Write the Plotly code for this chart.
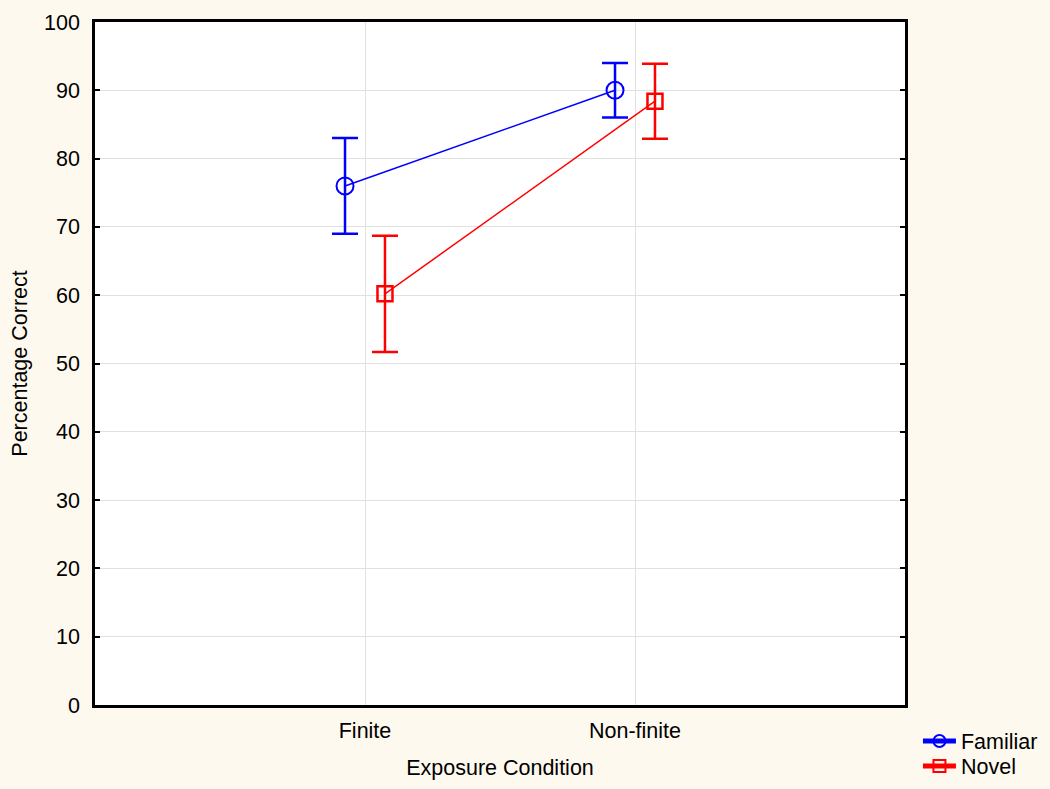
import plotly.graph_objects as go

# --- Data ---
conditions = ["Finite", "Non-finite"]
cond_pos = [0, 1]

familiar_mean = [76.0, 90.0]
familiar_err = [7.0, 4.0]

novel_mean = [60.2, 88.4]
novel_err = [8.5, 5.5]

OFFSET = 0.074  # horizontal dodge between groups

fig = go.Figure()

fig.add_trace(go.Scatter(
    x=[p - OFFSET for p in cond_pos], y=familiar_mean,
    name="Familiar", mode="lines+markers", legend="legend",
    line=dict(color="#0000FF", width=1.5),
    marker=dict(symbol="circle-open", size=17, color="#0000FF", line=dict(width=2)),
    error_y=dict(type="data", array=familiar_err, visible=True,
                 color="#0000FF", thickness=2.5, width=13),
))
fig.add_trace(go.Scatter(
    x=[p + OFFSET for p in cond_pos], y=novel_mean,
    name="Novel", mode="lines+markers", legend="legend2",
    line=dict(color="#FF0000", width=1.5),
    marker=dict(symbol="square-open", size=15, color="#FF0000", line=dict(width=2.5)),
    error_y=dict(type="data", array=novel_err, visible=True,
                 color="#FF0000", thickness=2.5, width=13),
))

fig.update_xaxes(
    range=[-1, 2], tickvals=cond_pos, ticktext=conditions,
    showgrid=True, gridcolor="#E0E0E0", gridwidth=1,
    showline=True, linecolor="black", linewidth=2.5, mirror=True,
    ticks="", zeroline=False, automargin=False, ticklabelstandoff=4,
    title=dict(text="Exposure Condition", font=dict(size=21.5), standoff=19),
    tickfont=dict(size=21.5),
)
fig.update_yaxes(
    range=[0, 100], dtick=10,
    showgrid=True, gridcolor="#E0E0E0", gridwidth=1,
    showline=True, linecolor="black", linewidth=2.5, mirror="allticks",
    ticks="inside", ticklen=5, tickwidth=2, tickcolor="black", zeroline=False,
    automargin=False, ticklabelstandoff=8,
    title=dict(text="Percentage Correct", font=dict(size=21.5), standoff=11),
    tickfont=dict(size=21.5),
)

leg_style = dict(x=1.016, xanchor="left", yanchor="middle",
                 bgcolor="rgba(0,0,0,0)", font=dict(size=21.5),
                 itemsizing="constant", itemwidth=33)

fig.update_layout(
    width=1050, height=789,
    paper_bgcolor="#FEF9EE", plot_bgcolor="white",
    font=dict(family="Liberation Sans, Arial, sans-serif", color="black"),
    margin=dict(l=95, r=145, t=22, b=84, autoexpand=False),
    showlegend=True,
    legend=dict(y=-0.0527, **leg_style),
    legend2=dict(y=-0.0893, **leg_style),
)

fig.write_html("out.html", config={"displayModeBar": False},
               post_script="document.body.style.margin='0';")
